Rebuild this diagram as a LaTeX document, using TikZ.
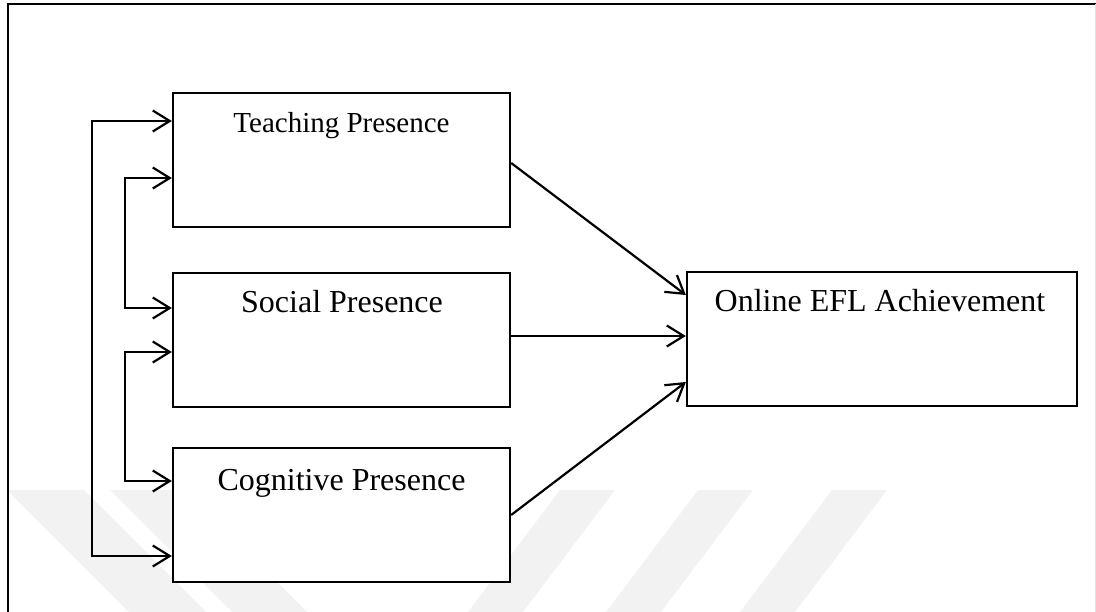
\documentclass[tikz,border=0pt]{standalone}
\usepackage{fontspec}
\setmainfont{Liberation Serif}
\usepackage{tikz}
\usetikzlibrary{arrows.meta,positioning}

\begin{document}
\begin{tikzpicture}[
    x=1pt,y=-1pt,
    >={Straight Barb[length=17pt,width=21pt]},
    every node/.style={inner sep=0pt},
    presbox/.style={rectangle,draw=black,fill=white,line width=2.3pt,
                    minimum width=337pt,minimum height=134pt},
    outbox/.style={rectangle,draw=black,fill=white,line width=2.3pt,
                   minimum width=390pt,minimum height=134pt},
    lab/.style={font=\fontsize{32}{36}\selectfont},
    arr/.style={->,line width=2.2pt,black},
    wmark/.style={fill=black!5,draw=none}
  ]
  \useasboundingbox (0,0) rectangle (1096,612);
  % watermark
  \begin{scope}
    \clip (0,490) rectangle (1096,612);
    \fill[wmark] (7,490) -- (84,490) -- (206,612) -- (129,612) -- cycle;
    \fill[wmark] (110,490) -- (185,490) -- (307,612) -- (232,612) -- cycle;
    \fill[wmark] (560,490) -- (615,490) -- (523,612) -- (468,612) -- cycle;
    \fill[wmark] (698,490) -- (753,490) -- (661,612) -- (606,612) -- cycle;
    \fill[wmark] (832,490) -- (887,490) -- (795,612) -- (740,612) -- cycle;
  \end{scope}
  % frame
  \draw[line width=2pt] (8,612) -- (8,4) -- (1096,4);
  \draw[line width=1pt,black!12] (1095,4) -- (1095,612);

  % boxes
  \node[presbox] (teach)  at (341.5,160) {};
  \node[presbox] (social) at (341.5,340) {};
  \node[presbox] (cog)    at (341.5,515) {};
  \node[outbox]  (online) at (882,339)   {};

  % texts
  \node[lab,font=\fontsize{29}{34}\selectfont] (teachtxt) at (341.5,125.5) {Teaching Presence};
  \node[lab] (socialtxt) at (342,302) {Social Presence};
  \node[lab] (cogtxt)    at (341.5,483) {Cognitive Presence};
  \node[lab] (onlinetxt) at (880,301) {Online EFL Achievement};

  % correlations
  \draw[arr,<->] ([yshift=-41pt]cog.west) -- ++(-80,0) |- ([yshift=39pt]teach.west);
  \draw[arr,<->] ([yshift=-18pt]teach.west) -- ++(-47,0) |- ([yshift=32pt]social.west);
  \draw[arr,<->] ([yshift=-12pt]social.west) -- ++(-47,0) |- ([yshift=34pt]cog.west);

  % paths
  \draw[arr] ([yshift=-3pt]teach.east) -- ([yshift=44pt]online.west);
  \draw[arr] ([yshift=4pt]social.east) -- ([yshift=3pt]online.west);
  \draw[arr] (cog.east) -- ([yshift=-43pt]online.west);
\end{tikzpicture}
\end{document}
